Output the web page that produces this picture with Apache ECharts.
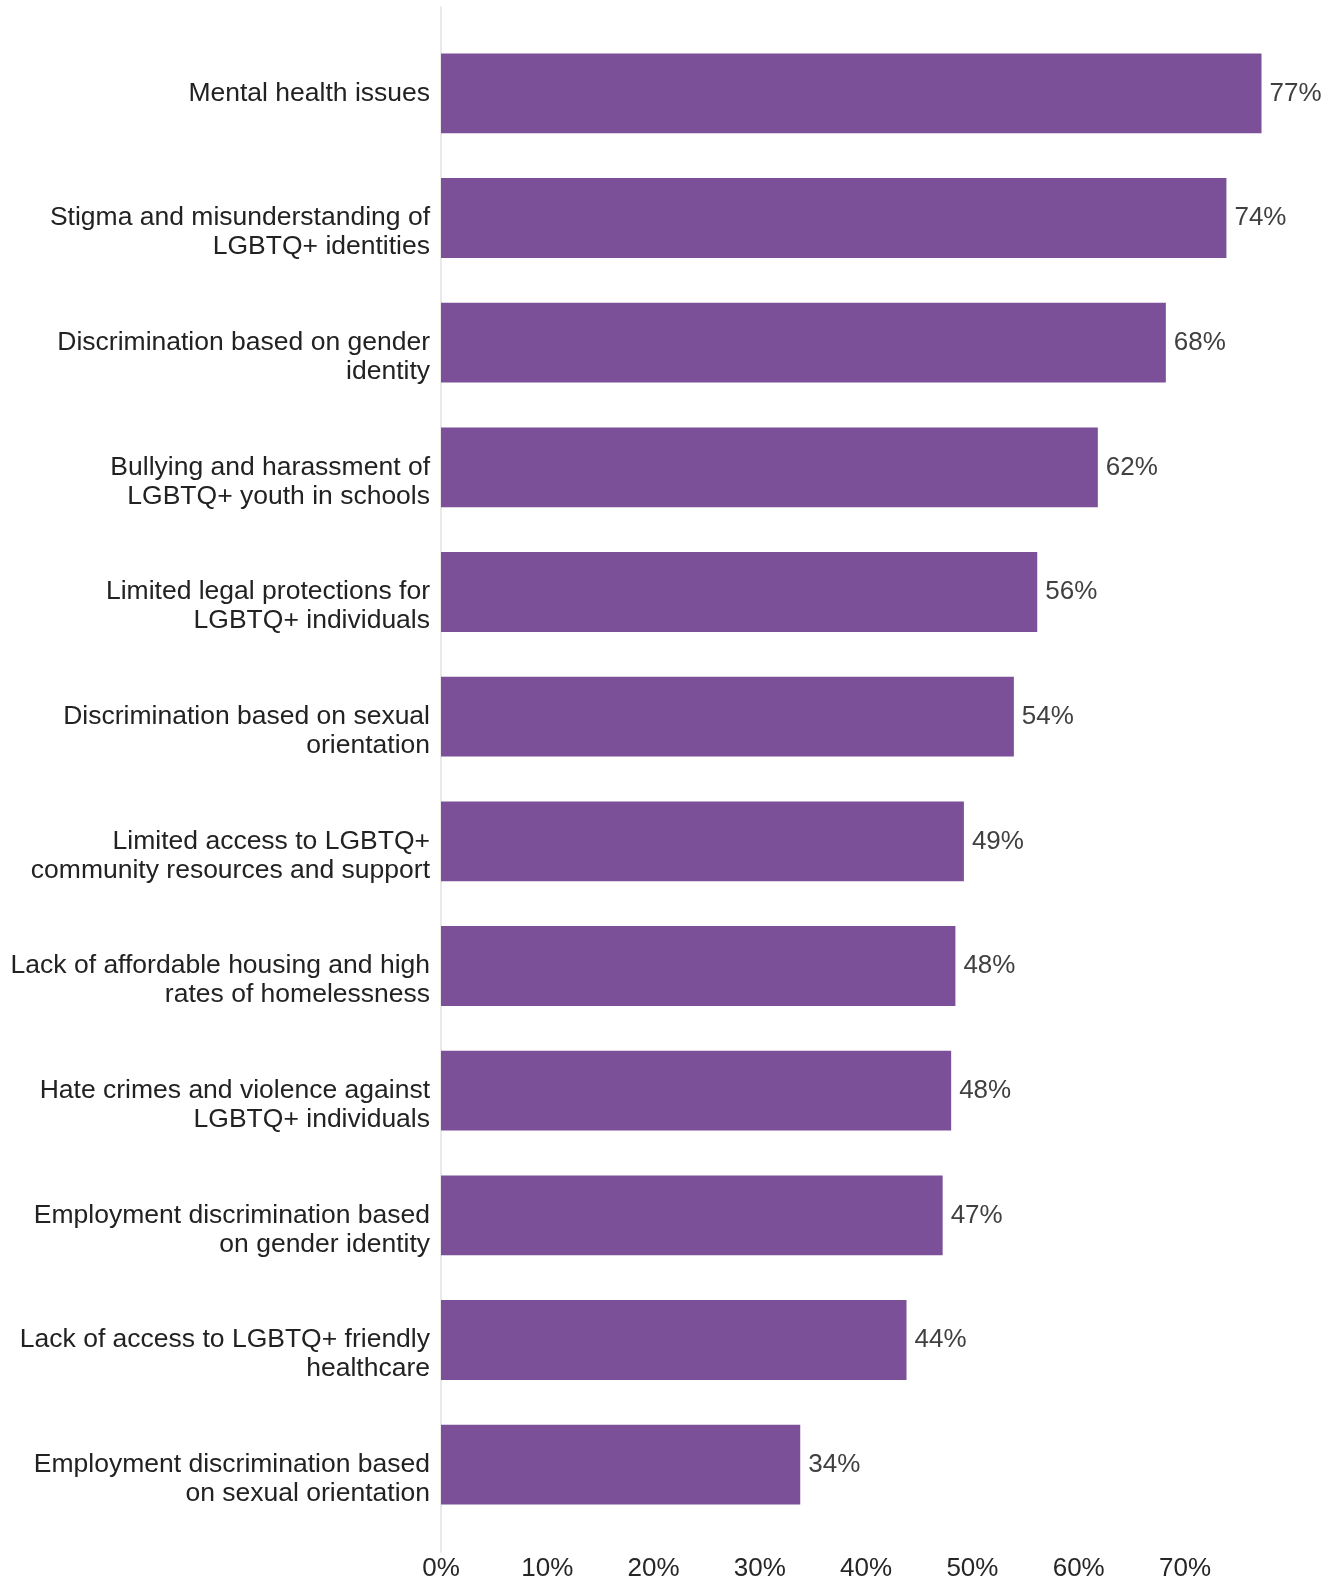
<!DOCTYPE html>
<html>
<head>
<meta charset="utf-8">
<script src="https://cdn.jsdelivr.net/npm/echarts@6/dist/echarts.min.js"></script>
<style>
html,body{margin:0;padding:0;background:#fff;}
#chart{width:1336px;height:1578px;}
</style>
</head>
<body>
<div id="chart"></div>
<script>
const categories = [
  "Mental health issues",
  "Stigma and misunderstanding of\nLGBTQ+ identities",
  "Discrimination based on gender\nidentity",
  "Bullying and harassment of\nLGBTQ+ youth in schools",
  "Limited legal protections for\nLGBTQ+ individuals",
  "Discrimination based on sexual\norientation",
  "Limited access to LGBTQ+\ncommunity resources and support",
  "Lack of affordable housing and high\nrates of homelessness",
  "Hate crimes and violence against\nLGBTQ+ individuals",
  "Employment discrimination based\non gender identity",
  "Lack of access to LGBTQ+ friendly\nhealthcare",
  "Employment discrimination based\non sexual orientation"
];
const values = [77.2, 73.9, 68.2, 61.8, 56.1, 53.9, 49.2, 48.4, 48.0, 47.2, 43.8, 33.8];
const tickLabelSuffix = "%";

const FONT = "'Liberation Sans', Arial, sans-serif";
const chart = echarts.init(document.getElementById('chart'), null, {renderer: 'canvas'});
chart.setOption({
  backgroundColor: '#ffffff',
  animation: false,
  grid: [
    {left: 441, right: 66, top: 31, bottom: 51, containLabel: false, outerBoundsMode: 'none'},
    {left: 441, right: 66, top: 7, bottom: 26, containLabel: false, outerBoundsMode: 'none'}
  ],
  xAxis: [
    {
      gridIndex: 0, type: 'value', min: 0, max: 78, interval: 10,
      axisLine: {show: false}, axisTick: {show: false}, splitLine: {show: false},
      axisLabel: {
        showMaxLabel: false, margin: 29, color: '#262626', fontSize: 26, fontFamily: FONT,
        formatter: v => v + tickLabelSuffix
      }
    },
    {
      gridIndex: 1, type: 'value', min: 0, max: 78, show: false
    }
  ],
  yAxis: [
    {
      gridIndex: 0, type: 'category', data: categories, inverse: true,
      axisLine: {show: false}, axisTick: {show: false}, splitLine: {show: false},
      axisLabel: {
        margin: 11, color: '#222222', fontSize: 26.5, lineHeight: 29, fontFamily: FONT, align: 'right',
        formatter: v => (v.indexOf('\n') >= 0 ? ' \n' + v : v)
      }
    },
    {
      gridIndex: 1, type: 'category', data: categories, inverse: true,
      axisLine: {show: true, lineStyle: {color: '#e2e2e2', width: 1.5}},
      axisTick: {show: false}, axisLabel: {show: false}, splitLine: {show: false}
    }
  ],
  series: [{
    type: 'bar',
    xAxisIndex: 0, yAxisIndex: 0,
    data: values,
    barCategoryGap: '36%',
    itemStyle: {color: '#7b5099'},
    label: {
      show: true, position: 'right', distance: 8,
      color: '#404040', fontSize: 26, fontFamily: FONT,
      formatter: p => Math.round(p.value) + '%'
    }
  }]
});
</script>
</body>
</html>
